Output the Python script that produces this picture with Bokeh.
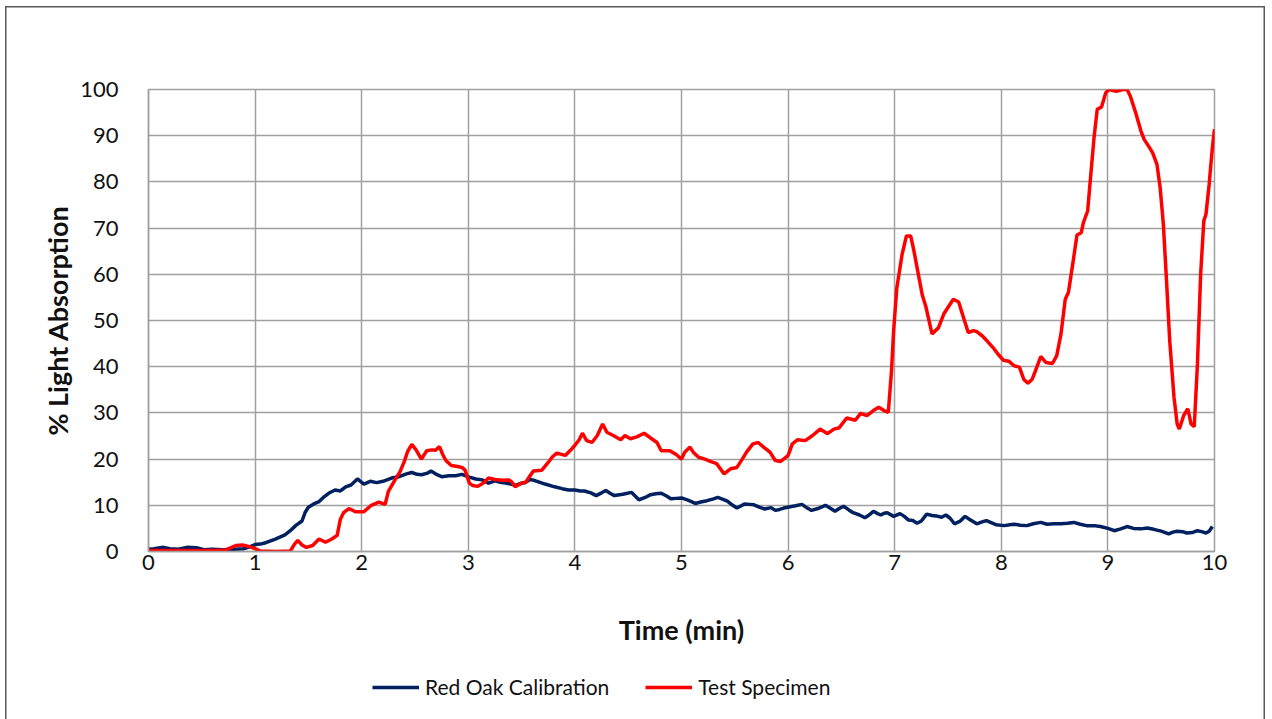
from bokeh.plotting import figure
from bokeh.layouts import column
from bokeh.models import Range1d, FixedTicker, Legend, LegendItem
from bokeh.embed import file_html
from bokeh.resources import INLINE

# ---- data ----
calib_t = [0.00, 0.05, 0.14, 0.20, 0.28, 0.36, 0.45, 0.52, 0.60, 0.70, 0.80, 0.89, 0.95, 1.00,
           1.05, 1.10, 1.19, 1.28, 1.33, 1.38, 1.44, 1.47, 1.50, 1.55, 1.60, 1.65, 1.69, 1.75,
           1.80, 1.85, 1.90, 1.96, 2.02, 2.08, 2.14, 2.20, 2.28, 2.35, 2.42, 2.47, 2.52, 2.56,
           2.61, 2.65, 2.70, 2.75, 2.82, 2.88, 2.94, 3.01, 3.07, 3.13, 3.19, 3.25, 3.30, 3.35,
           3.40, 3.44, 3.50, 3.53, 3.58, 3.63, 3.68, 3.72, 3.81, 3.88, 3.94, 4.00, 4.05, 4.09,
           4.15, 4.20, 4.25, 4.29, 4.33, 4.37, 4.45, 4.53, 4.60, 4.66, 4.71, 4.76, 4.81, 4.86,
           4.90, 4.95, 5.00, 5.06, 5.13, 5.18, 5.24, 5.30, 5.34, 5.39, 5.43, 5.48, 5.52, 5.56,
           5.59, 5.64, 5.68, 5.73, 5.78, 5.84, 5.88, 5.92, 5.96, 6.02, 6.07, 6.13, 6.18, 6.22,
           6.28, 6.35, 6.40, 6.44, 6.48, 6.52, 6.57, 6.61, 6.67, 6.72, 6.76, 6.80, 6.84, 6.87,
           6.90, 6.93, 6.99, 7.05, 7.09, 7.13, 7.17, 7.21, 7.25, 7.30, 7.35, 7.39, 7.44, 7.48,
           7.52, 7.56, 7.61, 7.66, 7.70, 7.77, 7.82, 7.86, 7.91, 7.95, 8.03, 8.08, 8.12, 8.18,
           8.24, 8.30, 8.37, 8.43, 8.49, 8.56, 8.62, 8.68, 8.74, 8.80, 8.87, 8.93, 9.00, 9.06,
           9.12, 9.18, 9.24, 9.31, 9.37, 9.43, 9.50, 9.57, 9.61, 9.65, 9.70, 9.74, 9.79, 9.84,
           9.88, 9.92, 9.95, 9.98]
calib_v = [0.5, 0.6, 0.9, 0.6, 0.5, 0.9, 0.8, 0.4, 0.5, 0.4, 0.5, 0.6, 1.0, 1.5,
           1.6, 1.9, 2.7, 3.6, 4.5, 5.6, 6.6, 8.5, 9.6, 10.3, 10.8, 11.9, 12.6, 13.3,
           13.1, 14.0, 14.4, 15.7, 14.6, 15.2, 14.9, 15.2, 15.9, 16.2, 16.8, 17.1, 16.7, 16.6,
           16.9, 17.4, 16.7, 16.2, 16.4, 16.4, 16.7, 16.1, 15.7, 15.5, 14.8, 15.3, 15.0, 14.8,
           14.6, 14.3, 14.8, 14.9, 15.6, 15.3, 14.9, 14.6, 14.0, 13.6, 13.3, 13.3, 13.1, 13.1,
           12.7, 12.1, 12.7, 13.2, 12.6, 12.1, 12.4, 12.8, 11.2, 11.7, 12.3, 12.5, 12.6, 12.0,
           11.4, 11.5, 11.6, 11.1, 10.4, 10.7, 11.0, 11.4, 11.7, 11.3, 10.9, 10.0, 9.4, 9.9,
           10.3, 10.2, 10.1, 9.6, 9.2, 9.5, 8.9, 9.1, 9.4, 9.7, 9.9, 10.2, 9.4, 8.9,
           9.3, 10.0, 9.3, 8.7, 9.3, 9.8, 9.0, 8.4, 7.9, 7.3, 7.9, 8.7, 8.2, 7.9,
           8.3, 8.4, 7.6, 8.2, 7.6, 6.8, 6.7, 6.1, 6.6, 8.1, 7.8, 7.7, 7.4, 7.9,
           7.2, 6.0, 6.5, 7.6, 7.0, 6.0, 6.4, 6.7, 6.2, 5.8, 5.6, 5.8, 5.9, 5.7,
           5.6, 6.0, 6.3, 5.9, 6.0, 6.0, 6.1, 6.3, 5.9, 5.6, 5.6, 5.4, 5.0, 4.5,
           4.9, 5.4, 5.0, 4.9, 5.1, 4.8, 4.4, 3.8, 4.2, 4.4, 4.3, 4.0, 4.1, 4.5,
           4.3, 4.0, 4.4, 5.4]

spec_t = [0.00, 0.30, 0.60, 0.72, 0.78, 0.82, 0.88, 0.94, 1.00, 1.05, 1.20, 1.33, 1.37, 1.40,
          1.44, 1.48, 1.54, 1.60, 1.66, 1.72, 1.77, 1.80, 1.83, 1.88, 1.94, 2.02, 2.09, 2.16,
          2.22, 2.25, 2.31, 2.36, 2.40, 2.43, 2.47, 2.51, 2.56, 2.61, 2.66, 2.69, 2.73, 2.76,
          2.79, 2.84, 2.90, 2.94, 2.97, 3.01, 3.04, 3.09, 3.14, 3.19, 3.25, 3.32, 3.38, 3.41,
          3.44, 3.50, 3.54, 3.57, 3.61, 3.69, 3.74, 3.79, 3.83, 3.91, 3.97, 4.00, 4.04, 4.07,
          4.11, 4.16, 4.21, 4.26, 4.30, 4.36, 4.43, 4.47, 4.52, 4.58, 4.65, 4.72, 4.77, 4.81,
          4.89, 4.95, 5.00, 5.03, 5.08, 5.11, 5.16, 5.22, 5.27, 5.33, 5.40, 5.46, 5.52, 5.57,
          5.61, 5.67, 5.72, 5.77, 5.83, 5.88, 5.93, 5.97, 6.00, 6.04, 6.09, 6.16, 6.23, 6.30,
          6.37, 6.43, 6.48, 6.55, 6.63, 6.68, 6.74, 6.80, 6.85, 6.90, 6.94, 6.97, 6.99, 7.02,
          7.07, 7.11, 7.15, 7.18, 7.23, 7.26, 7.29, 7.35, 7.41, 7.46, 7.51, 7.55, 7.60, 7.65,
          7.69, 7.74, 7.77, 7.82, 7.87, 7.92, 7.97, 8.02, 8.07, 8.12, 8.17, 8.21, 8.25, 8.29,
          8.32, 8.37, 8.42, 8.48, 8.52, 8.56, 8.60, 8.63, 8.67, 8.71, 8.75, 8.77, 8.81, 8.84,
          8.87, 8.90, 8.94, 8.98, 9.01, 9.08, 9.14, 9.18, 9.21, 9.26, 9.31, 9.34, 9.38, 9.42,
          9.46, 9.49, 9.52, 9.55, 9.58, 9.62, 9.65, 9.67, 9.71, 9.75, 9.78, 9.81, 9.84, 9.87,
          9.90, 9.92, 9.95, 9.98, 10.00]
spec_v = [0.2, 0.2, 0.2, 0.3, 0.9, 1.3, 1.4, 1.1, 0.6, 0.1, 0.0, 0.1, 1.6, 2.4,
          1.4, 0.9, 1.3, 2.7, 2.0, 2.7, 3.5, 7.0, 8.4, 9.3, 8.6, 8.6, 10.0, 10.7,
          10.2, 13.0, 15.4, 17.3, 19.5, 21.6, 23.2, 22.0, 20.0, 21.8, 22.0, 21.9, 22.7, 21.0,
          19.7, 18.6, 18.4, 18.2, 17.6, 14.8, 14.3, 14.1, 14.8, 15.9, 15.6, 15.4, 15.5, 15.0,
          14.0, 14.8, 15.0, 16.1, 17.4, 17.6, 19.0, 20.5, 21.3, 20.8, 22.2, 23.0, 24.2, 25.6,
          24.0, 23.6, 25.1, 27.6, 25.8, 25.1, 24.2, 25.1, 24.4, 24.8, 25.6, 24.4, 23.6, 21.8,
          21.8, 21.0, 20.0, 21.5, 22.6, 21.5, 20.4, 20.0, 19.5, 19.0, 16.8, 17.9, 18.2, 20.0,
          21.5, 23.3, 23.6, 22.6, 21.5, 19.7, 19.5, 20.2, 20.8, 23.3, 24.2, 24.0, 25.1, 26.5,
          25.5, 26.5, 26.8, 28.9, 28.4, 29.9, 29.4, 30.5, 31.2, 30.5, 30.1, 39.1, 47.8, 57.1,
          64.4, 68.3, 68.3, 65.1, 59.0, 55.4, 53.2, 47.1, 48.4, 51.4, 53.2, 54.6, 54.0, 50.3,
          47.4, 47.8, 47.6, 46.7, 45.5, 44.2, 42.7, 41.4, 41.2, 40.2, 39.9, 37.3, 36.4, 37.3,
          39.1, 42.2, 40.9, 40.7, 42.4, 47.1, 54.6, 56.1, 62.2, 68.5, 69.0, 71.2, 73.7, 81.7,
          89.6, 95.7, 96.2, 99.3, 100.0, 99.6, 100.0, 100.0, 98.6, 95.0, 91.0, 89.2, 87.8, 86.3,
          83.8, 78.8, 70.9, 58.6, 45.6, 33.4, 27.6, 26.5, 29.4, 30.9, 27.6, 27.0, 40.6, 60.0,
          71.6, 73.0, 79.5, 87.4, 91.4]

x_ticks = [0, 1, 2, 3, 4, 5, 6, 7, 8, 9, 10]
y_ticks = [0, 10, 20, 30, 40, 50, 60, 70, 80, 90, 100]
series_names = ["Red Oak Calibration", "Test Specimen"]
series_colors = ["#002060", "#ff0000"]

FONT = "Lato"
GRID = "#a0a0a0"
TXT = "#111111"
EDGE = "#595959"
W = 1270
H_MAIN, H_LEG = 652, 67

p = figure(width=W, height=H_MAIN, x_range=Range1d(0, 10), y_range=Range1d(0, 100),
           output_backend="svg", toolbar_location=None,
           min_border_left=148, min_border_right=W - 1214, min_border_top=89,
           min_border_bottom=H_MAIN - 551)
p.border_fill_alpha = 0

p.xaxis.ticker = FixedTicker(ticks=x_ticks)
p.yaxis.ticker = FixedTicker(ticks=y_ticks)
for ax in (p.xaxis, p.yaxis):
    ax.major_tick_line_color = None
    ax.minor_tick_line_color = None
    ax.axis_line_color = GRID
    ax.axis_line_width = 1.5
    ax.major_label_text_font = FONT
    ax.major_label_text_font_size = "22px"
    ax.major_label_text_color = TXT
    ax.axis_label_text_font = FONT
    ax.axis_label_text_font_style = "bold"
    ax.axis_label_text_font_size = "27px"
    ax.axis_label_text_color = TXT

p.xaxis.axis_label = "Time (min)"
p.yaxis.axis_label = "% Light Absorption"
p.yaxis.major_label_standoff = 24
p.xaxis.major_label_standoff = -3
p.xaxis.axis_label_standoff = 40
p.yaxis.axis_label_standoff = 3

p.xgrid.grid_line_color = GRID
p.ygrid.grid_line_color = GRID
p.xgrid.grid_line_width = 1.5
p.ygrid.grid_line_width = 1.5
p.outline_line_color = GRID
p.outline_line_width = 1.5

p.line(calib_t, calib_v, line_color=series_colors[0], line_width=3.5)
p.line(spec_t, spec_v, line_color=series_colors[1], line_width=3.5)

# legend strip below the chart
lg = figure(width=W, height=H_LEG, x_range=Range1d(0, 1), y_range=Range1d(0, 1),
            output_backend="svg", toolbar_location=None, min_border=0,
            x_axis_location=None, y_axis_location=None, outline_line_color=None)
lg.grid.visible = False
lg.border_fill_alpha = 0
lg.background_fill_alpha = 0
items = []
for name, col in zip(series_names, series_colors):
    r = lg.line(x=[-10, -9], y=[-10, -10], line_color=col, line_width=3.5)
    items.append(LegendItem(label=name, renderers=[r]))
legend = Legend(items=items, orientation="horizontal", location=(224, 20),
                border_line_color=None, background_fill_alpha=0,
                glyph_width=47, glyph_height=20, label_standoff=6, spacing=36,
                label_text_font=FONT, label_text_font_size="21px",
                label_text_color=TXT, padding=0, margin=0)
lg.add_layout(legend)

# outer chart border (left, top, right) drawn with inset shadows on the hosts
p.styles = {"box-shadow": (f"inset 5px 0 0 0 #ffffff, inset -5px 0 0 0 #ffffff, "
                           f"inset 0 6px 0 0 #ffffff, "
                           f"inset 6.5px 0 0 0 {EDGE}, inset -6.5px 0 0 0 {EDGE}, "
                           f"inset 0 7.5px 0 0 {EDGE}")}
lg.styles = {"box-shadow": (f"inset 5px 0 0 0 #ffffff, inset -5px 0 0 0 #ffffff, "
                            f"inset 6.5px 0 0 0 {EDGE}, inset -6.5px 0 0 0 {EDGE}")}

layout = column(p, lg, spacing=0)

open("out.html", "w").write(file_html(layout, INLINE))
